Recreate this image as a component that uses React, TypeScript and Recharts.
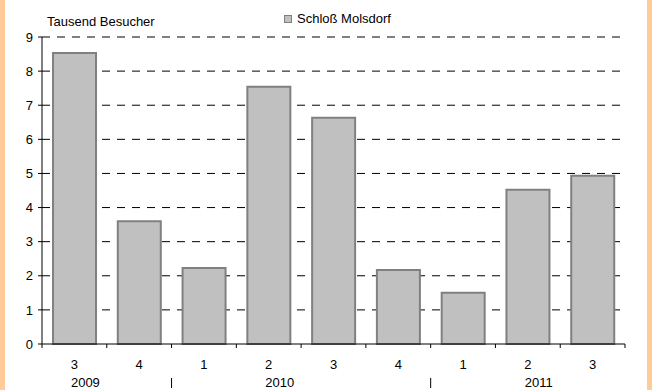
import { BarChart, Bar, XAxis, YAxis, CartesianGrid } from 'recharts';

const quarters = ['3', '4', '1', '2', '3', '4', '1', '2', '3'];
const visitors = [8.53, 3.6, 2.23, 7.54, 6.63, 2.17, 1.5, 4.52, 4.93];
const yearLabels: Record<number, string> = { 0: '2009', 3: '2010', 7: '2011' };
const yearSeparators = [1, 5];
const yTicks = [0, 1, 2, 3, 4, 5, 6, 7, 8, 9];

const chartData = quarters.map((q, i) => ({ name: q, value: visitors[i] }));

const W = 652;
const H = 390;
const AXIS_Y = 344;
const font = '"Liberation Sans", Arial, sans-serif';

const QuarterTick = (props: any) => {
  const { x, payload, index } = props;
  const half = payload?.offset ?? 32.4;
  const i = index ?? payload?.index ?? 0;
  const y = AXIS_Y;
  return (
    <g>
      <line x1={x + half} y1={y} x2={x + half} y2={y + 4} stroke="#000" />
      {i === 0 && <line x1={x - half} y1={y} x2={x - half} y2={y + 4} stroke="#000" />}
      <text x={x} y={y + 25} textAnchor="middle" fontSize={13} fill="#000" fontFamily={font}>
        {payload.value}
      </text>
      {yearLabels[i] && (
        <text x={x + 11} y={y + 43} textAnchor="middle" fontSize={13} fill="#000" fontFamily={font}>
          {yearLabels[i]}
        </text>
      )}
      {yearSeparators.includes(i) && (
        <line x1={x + half} y1={y + 34} x2={x + half} y2={y + 44} stroke="#000" />
      )}
    </g>
  );
};

const App = () => {
  return (
    <div style={{ position: 'absolute', top: 0, left: 0, width: W, height: H, background: '#fff', fontFamily: font }}>
      <div style={{ position: 'absolute', left: 0, top: 0, width: 5, height: H, background: '#FFCC99' }} />
      <div style={{ position: 'absolute', right: 0, top: 0, width: 5, height: H, background: '#FFCC99' }} />
      <div style={{ position: 'absolute', left: 47, top: 13, fontSize: 13, color: '#000', lineHeight: '18px' }}>
        Tausend Besucher
      </div>
      <div style={{ position: 'absolute', left: 284, top: 10, fontSize: 13, color: '#000', lineHeight: '18px', display: 'flex', alignItems: 'center' }}>
        <span style={{ display: 'inline-block', width: 6, height: 6, background: '#C0C0C0', border: '1px solid #808080', marginRight: 5 }} />
        Schloß Molsdorf
      </div>
      <BarChart
        width={W}
        height={H}
        data={chartData}
        margin={{ top: 37, right: 27, left: 0, bottom: 0 }}
        barCategoryGap="17%"
      >
        <CartesianGrid vertical={false} stroke="#000" strokeDasharray="8 7" horizontalValues={[1, 2, 3, 4, 5, 6, 7, 8, 9]} />
        <XAxis
          dataKey="name"
          height={46}
          axisLine={{ stroke: '#000' }}
          tickLine={false}
          tick={<QuarterTick />}
          interval={0}
        />
        <YAxis
          width={42}
          domain={[0, 9]}
          ticks={yTicks}
          interval={0}
          axisLine={{ stroke: '#000' }}
          tickLine={{ stroke: '#000' }}
          tickSize={4}
          tickMargin={5}
          tick={{ fontSize: 13, fill: '#000', fontFamily: font }}
        />
        <Bar dataKey="value" fill="#C0C0C0" stroke="#808080" strokeWidth={2} isAnimationActive={false} />
      </BarChart>
    </div>
  );
};

export default App;
